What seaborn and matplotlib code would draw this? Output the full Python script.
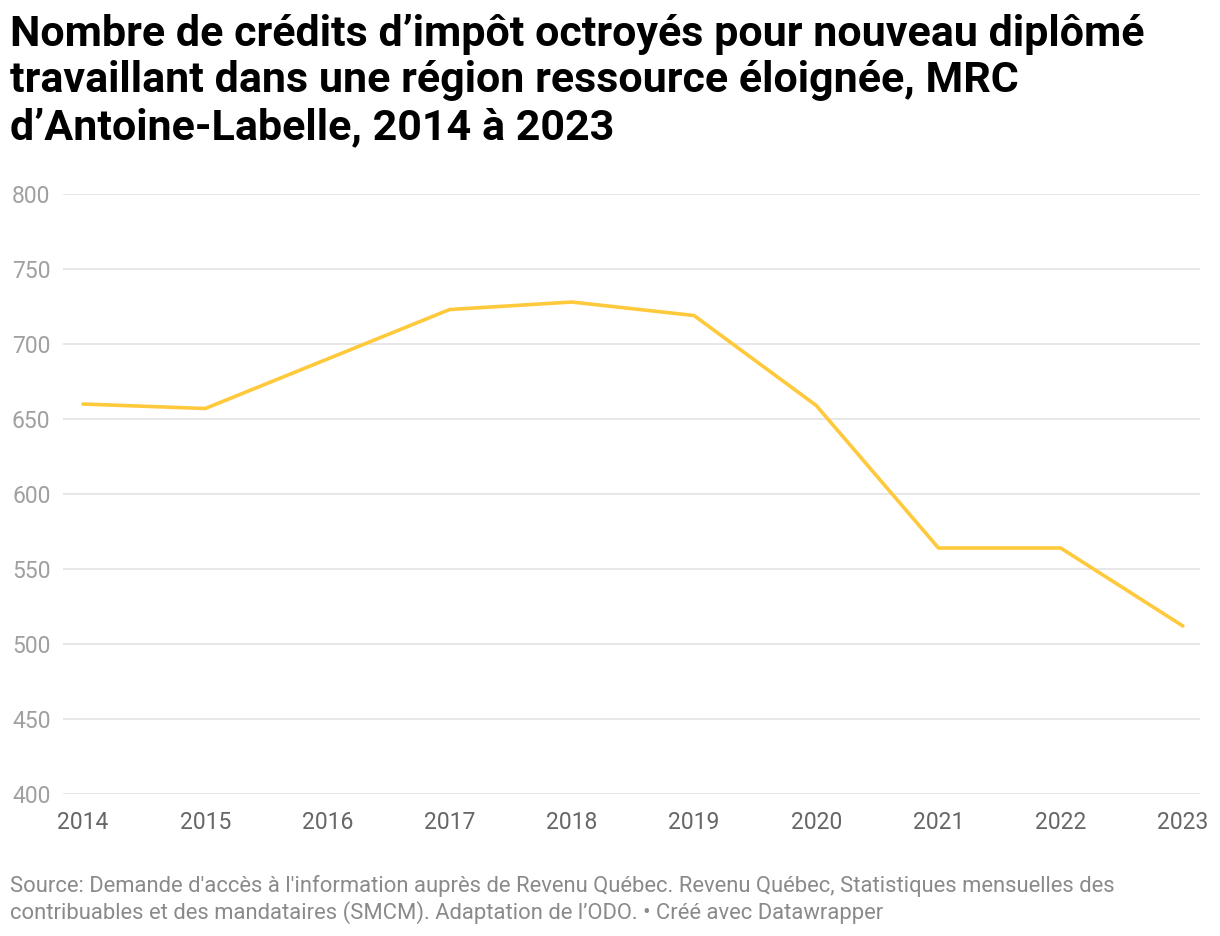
import matplotlib
matplotlib.use("Agg")
import matplotlib.pyplot as plt
import seaborn as sns
import pandas as pd

# data
years = [2014, 2015, 2016, 2017, 2018, 2019, 2020, 2021, 2022, 2023]
credits = [660, 657, 690, 723, 728, 719, 659, 564, 564, 512]
y_ticks = [400, 450, 500, 550, 600, 650, 700, 750, 800]

title = ("Nombre de crédits d\u2019impôt octroyés pour nouveau diplômé\n"
         "travaillant dans une région ressource éloignée, MRC\n"
         "d\u2019Antoine-Labelle, 2014 à 2023")
source = ("Source: Demande d'accès à l'information auprès de Revenu Québec. Revenu Québec, Statistiques mensuelles des\n"
          "contribuables et des mandataires (SMCM). Adaptation de l\u2019ODO. \u2022 Créé avec Datawrapper")

df = pd.DataFrame({"year": years, "credits": credits})

sns.set_theme(style="white")
plt.rcParams['font.family'] = ['Roboto', 'DejaVu Sans']

fig = plt.figure(figsize=(12.2, 9.36), dpi=100)
ax = fig.add_axes([0.0516, 0.1517, 0.932, 0.641])

sns.lineplot(data=df, x="year", y="credits", ax=ax, color="#FFC93C", linewidth=2.6)

ax.set_ylim(400, 800)
ax.set_xlim(2013.836, 2023.14)
ax.set_yticks(y_ticks)
ax.set_xticks(years)
ax.set_yticklabels([str(t) for t in y_ticks])
ax.set_xticklabels([str(y) for y in years])
ax.yaxis.grid(True, color="#e3e3e3", linewidth=1.2)
ax.xaxis.grid(False)
for s in ax.spines.values():
    s.set_visible(False)
ax.set_xlabel("")
ax.set_ylabel("")
ax.tick_params(axis="y", length=0, pad=9, labelsize=16.5, labelcolor="#a0a0a0")
ax.tick_params(axis="x", length=0, pad=12, labelsize=16.5, labelcolor="#666666")

fig.text(0.008, 0.985, title, fontsize=31, fontweight="bold", color="#000000",
         va="top", ha="left", linespacing=1.17)
fig.text(0.008, 0.013, source, fontsize=15.8, color="#8a8a8a",
         va="bottom", ha="left", linespacing=1.2)

fig.savefig("out.png", dpi=100)
